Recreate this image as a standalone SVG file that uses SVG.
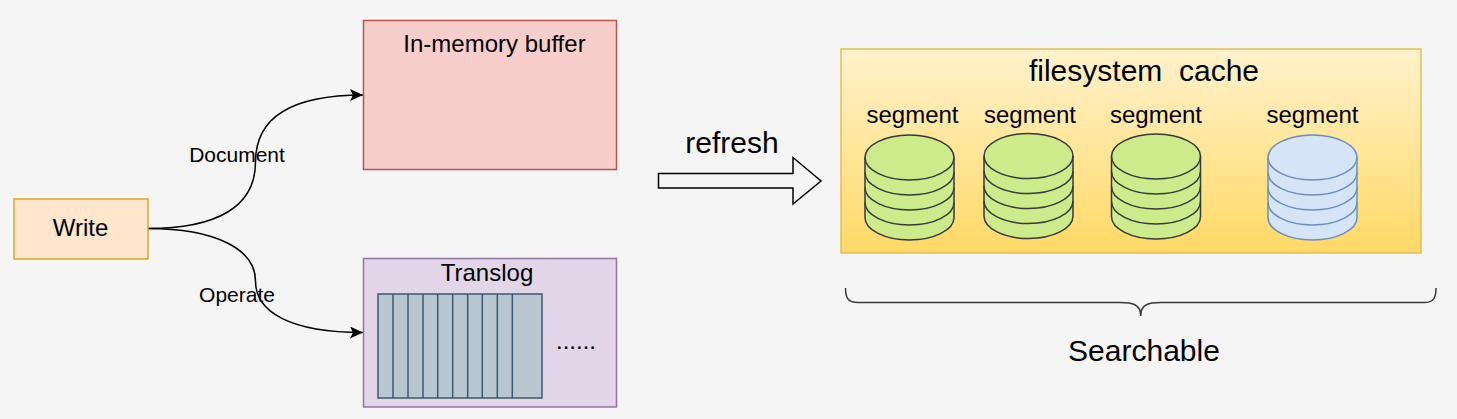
<svg xmlns="http://www.w3.org/2000/svg" width="1457" height="419" viewBox="0 0 1457 419">
<style>
text{font-family:"Liberation Sans",Arial,sans-serif;fill:#000;text-anchor:middle}
.conn{fill:none;stroke:#000;stroke-width:1.5}
.g{fill:#cdeb8b;stroke:#36393d;stroke-width:1.5}
.b{fill:#d6e4f7;stroke:#6c8ebf;stroke-width:1.5}
.seg{font-size:24px;stroke:none}
.lane{fill:none;stroke:#3f5a70;stroke-width:1.5}
</style>
<defs>
<linearGradient id="fs" x1="0" y1="0" x2="0" y2="1"><stop offset="0" stop-color="#fff2cc"/><stop offset="1" stop-color="#ffd966"/></linearGradient>
<marker id="ah" markerUnits="userSpaceOnUse" markerWidth="14" markerHeight="14" refX="13" refY="6" orient="auto"><path d="M0,0L13,6L0,12L3,6Z" fill="#000"/></marker>
<g id="c"><path d="M0,22.5A44.5,22.5 0 0 1 89,22.5V82.5A44.5,22.5 0 0 1 0,82.5Z"/><path fill="none" d="M0,22.5A44.5,22.5 0 0 0 89,22.5M0,37.5A44.5,22.5 0 0 0 89,37.5M0,52.5A44.5,22.5 0 0 0 89,52.5M0,67.5A44.5,22.5 0 0 0 89,67.5"/></g>
</defs>
<rect width="1457" height="419" fill="#f5f5f5"/>
<g id="connectors">
<path class="conn" marker-end="url(#ah)" d="M148,228.5C215,228.5 255.5,208 255.5,162C255.5,118 290,95 363,95"/>
<path class="conn" marker-end="url(#ah)" d="M148,228.5C215,228.5 255.5,249 255.5,281C255.5,312 290,332.5 363,332.5"/>
</g>
<g id="write"><rect x="14" y="199" width="134" height="60" fill="#ffe6cc" stroke="#e0a526" stroke-width="1.5"/><text x="80.5" y="236" font-size="24">Write</text></g>
<text x="237" y="162" font-size="21">Document</text>
<text x="237" y="302" font-size="21">Operate</text>
<g id="buffer"><rect x="363.5" y="20.5" width="253" height="149" fill="#f8cecc" stroke="#b85450" stroke-width="1.5"/><text x="494.5" y="52" font-size="24">In-memory buffer</text></g>
<g id="translog"><rect x="363.5" y="258.5" width="253" height="148.500" fill="#e1d5e7" stroke="#9673a6" stroke-width="1.5"/><text x="487" y="281" font-size="24">Translog</text>
<rect x="378" y="294" width="164" height="104" fill="#b8c6d1" stroke="#3f5a70" stroke-width="1.5"/>
<path class="lane" d="M393,294V398M408,294V398M423,294V398M437.7,294V398M452.7,294V398M467.7,294V398M482.3,294V398M497.3,294V398M512.3,294V398"/>
<text x="576" y="349" font-size="24">......</text></g>
<g id="refresh"><path d="M658.5,173.500H793V157.500L821,181L793,204V188H658.5Z" fill="#f5f5f5" stroke="#000" stroke-width="1.5"/><text x="732" y="153" font-size="30">refresh</text></g>
<g id="filesystem"><rect x="841" y="49" width="580" height="204" fill="url(#fs)" stroke="#e2bd5c" stroke-width="1.5"/><text x="1144" y="81" font-size="30" xml:space="preserve">filesystem  cache</text></g>
<g id="segment1" class="g"><use href="#c" x="865" y="135"/><text class="seg" x="912.5" y="122.500">segment</text></g>
<g id="segment2" class="g"><use href="#c" x="984" y="133.5"/><text class="seg" x="1030" y="123">segment</text></g>
<g id="segment3" class="g"><use href="#c" x="1111.5" y="134"/><text class="seg" x="1156" y="123">segment</text></g>
<g id="segment4" class="b"><use href="#c" x="1268" y="135"/><text class="seg" x="1312.5" y="123">segment</text></g>
<g id="searchable"><path d="M845.5,288C845.5,298 848,302.5 858,302.5H1120C1132,302.5 1140.7,304 1140.7,316C1140.7,304 1149,302.5 1161,302.5H1424C1433,302.5 1436,299 1436,288" fill="none" stroke="#36393d" stroke-width="1.5"/><text x="1144" y="361" font-size="30">Searchable</text></g>
</svg>
